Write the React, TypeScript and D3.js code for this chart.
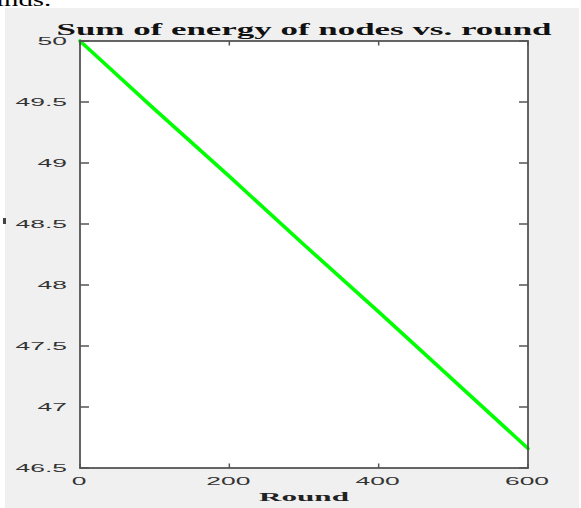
import React from "react";
import * as d3 from "d3";

const rounds = [0, 100, 200, 300, 400, 500, 600];
const energy = [50, 49.44, 48.89, 48.33, 47.78, 47.22, 46.66];
const xTicks = [0, 200, 400, 600];
const yTicks = [46.5, 47, 47.5, 48, 48.5, 49, 49.5, 50];
const titleText = "Sum of energy of nodes vs. round";
const xLabelText = "Round";

export default function App() {
  const W = 581;
  const H = 508;
  const left = 80, right = 528, top = 41, bottom = 468;
  const x = d3.scaleLinear().domain([0, 600]).range([left, right]);
  const y = d3.scaleLinear().domain([46.5, 50]).range([bottom, top]);
  const data = rounds.map((r, i) => ({ r, e: energy[i] }));
  const line = d3
    .line<{ r: number; e: number }>()
    .x((d) => x(d.r))
    .y((d) => y(d.e));
  const sx = 2.3;
  const axisColor = "#555";
  const tickColor = "#333";
  return (
    <svg
      width={W}
      height={H}
      style={{ position: "absolute", left: 0, top: 0, background: "#fff" }}
    >
      <rect x={0} y={0} width={W} height={H} fill="#fff" />
      <text
        transform={`translate(-4,6) scale(1.6,1)`}
        fontFamily="Liberation Serif, serif"
        fontSize={18}
        fill="#000"
      >
        inds.
      </text>
      <rect x={5} y={8} width={574} height={H - 8} fill="#f0f0f0" />
      <rect x={3} y={218} width={3} height={6} fill="#444" />
      <rect x={left} y={top} width={right - left} height={bottom - top} fill="#fff" />
      <path
        d={line(data) || ""}
        fill="none"
        stroke="#00ff00"
        strokeWidth={3.6}
        strokeLinecap="round"
      />
      <rect
        x={left}
        y={top}
        width={right - left}
        height={bottom - top}
        fill="none"
        stroke={axisColor}
        strokeWidth={1.8}
      />
      {xTicks.map((t) => (
        <g key={"x" + t}>
          <line x1={x(t)} x2={x(t)} y1={bottom} y2={bottom - 4.5} stroke={axisColor} strokeWidth={1.5} />
          <line x1={x(t)} x2={x(t)} y1={top} y2={top + 4.5} stroke={axisColor} strokeWidth={1.5} />
          <text
            transform={`translate(${x(t) - 1},${bottom + 17}) scale(${sx},1)`}
            textAnchor="middle"
            fontFamily="Liberation Sans, Arial, sans-serif"
            fontSize={11.5}
            fill={tickColor}
          >
            {t}
          </text>
        </g>
      ))}
      {yTicks.map((t) => (
        <g key={"y" + t}>
          <line x1={left} x2={left + 9} y1={y(t)} y2={y(t)} stroke={axisColor} strokeWidth={1.5} />
          <line x1={right} x2={right - 9} y1={y(t)} y2={y(t)} stroke={axisColor} strokeWidth={1.5} />
          <text
            transform={`translate(67,${y(t) + 4}) scale(${sx},1)`}
            textAnchor="end"
            fontFamily="Liberation Sans, Arial, sans-serif"
            fontSize={11.5}
            fill={tickColor}
          >
            {t}
          </text>
        </g>
      ))}
      <text
        x={(left + right) / 2}
        y={35}
        textAnchor="middle"
        fontFamily="Liberation Serif, Times New Roman, serif"
        fontWeight="bold"
        fontSize={17.5}
        fill="#111"
        textLength={495}
        lengthAdjust="spacingAndGlyphs"
      >
        {titleText}
      </text>
      <text
        x={(left + right) / 2}
        y={501}
        textAnchor="middle"
        fontFamily="Liberation Serif, Times New Roman, serif"
        fontWeight="bold"
        fontSize={13.5}
        fill="#222"
        textLength={90}
        lengthAdjust="spacingAndGlyphs"
      >
        {xLabelText}
      </text>
    </svg>
  );
}
